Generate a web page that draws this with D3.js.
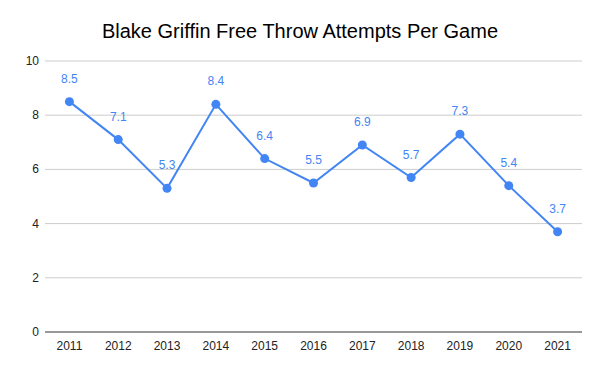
<!DOCTYPE html>
<html>
<head>
<meta charset="utf-8">
<script src="https://cdn.jsdelivr.net/npm/d3@7"></script>
<style>
  body { margin: 0; background: #fff; }
  svg { font-family: "Liberation Sans", Arial, sans-serif; }
</style>
</head>
<body>
<svg id="chart" width="600" height="371"></svg>
<script>
// data
const seasons = ["2011", "2012", "2013", "2014", "2015", "2016", "2017", "2018", "2019", "2020", "2021"];
const fta = [8.5, 7.1, 5.3, 8.4, 6.4, 5.5, 6.9, 5.7, 7.3, 5.4, 3.7];
const yTicks = [0, 2, 4, 6, 8, 10];

let chart = d3.select("#chart");
let margin = {top: 61, right: 18, bottom: 39, left: 45};
let w = 600, h = 371;

// x position scale
let x = d3.scaleBand()
  .domain(seasons)
  .range([margin.left, w - margin.right]);

// y position scale
let y = d3.scaleLinear()
  .domain([0, 10])
  .range([h - margin.bottom, margin.top]);

// title
chart.append("text")
  .attr("x", 300).attr("y", 38)
  .attr("text-anchor", "middle")
  .attr("font-size", 20)
  .attr("fill", "#000")
  .text("Blake Griffin Free Throw Attempts Per Game");

// gridlines
chart.append("g").selectAll("line")
  .data(yTicks.filter(d => d > 0)).enter()
  .append("line")
    .attr("x1", margin.left).attr("x2", w - margin.right)
    .attr("y1", d => y(d)).attr("y2", d => y(d))
    .attr("stroke", "#ccc").attr("stroke-width", 1);

// y labels
chart.append("g").selectAll("text")
  .data(yTicks).enter()
  .append("text")
    .attr("x", margin.left - 6)
    .attr("y", d => y(d) + 4)
    .attr("text-anchor", "end")
    .attr("font-size", 12)
    .attr("fill", "#222")
    .text(d => d);

// baseline
chart.append("line")
  .attr("x1", margin.left).attr("x2", w - margin.right)
  .attr("y1", y(0)).attr("y2", y(0))
  .attr("stroke", "#333").attr("stroke-width", 1);

// x labels
chart.append("g").selectAll("text")
  .data(seasons).enter()
  .append("text")
    .attr("x", d => x(d) + x.bandwidth() / 2)
    .attr("y", y(0) + 18)
    .attr("text-anchor", "middle")
    .attr("font-size", 12)
    .attr("fill", "#222")
    .text(d => d);

let cx = (d, i) => x(seasons[i]) + x.bandwidth() / 2;

// line
let line = d3.line()
  .x((d, i) => cx(d, i))
  .y(d => y(d));

chart.append("path")
  .datum(fta)
  .attr("fill", "none")
  .attr("stroke", "#4285f4")
  .attr("stroke-width", 2)
  .attr("d", line);

// points
chart.append("g").selectAll("circle")
  .data(fta).enter()
  .append("circle")
    .attr("cx", cx)
    .attr("cy", d => y(d))
    .attr("r", 4.5)
    .attr("fill", "#4285f4");

// value labels
chart.append("g").selectAll("text")
  .data(fta).enter()
  .append("text")
    .attr("x", cx)
    .attr("y", d => y(d) - 19)
    .attr("text-anchor", "middle")
    .attr("font-size", 12)
    .attr("fill", "#4285f4")
    .text(d => d.toFixed(1));
</script>
</body>
</html>
